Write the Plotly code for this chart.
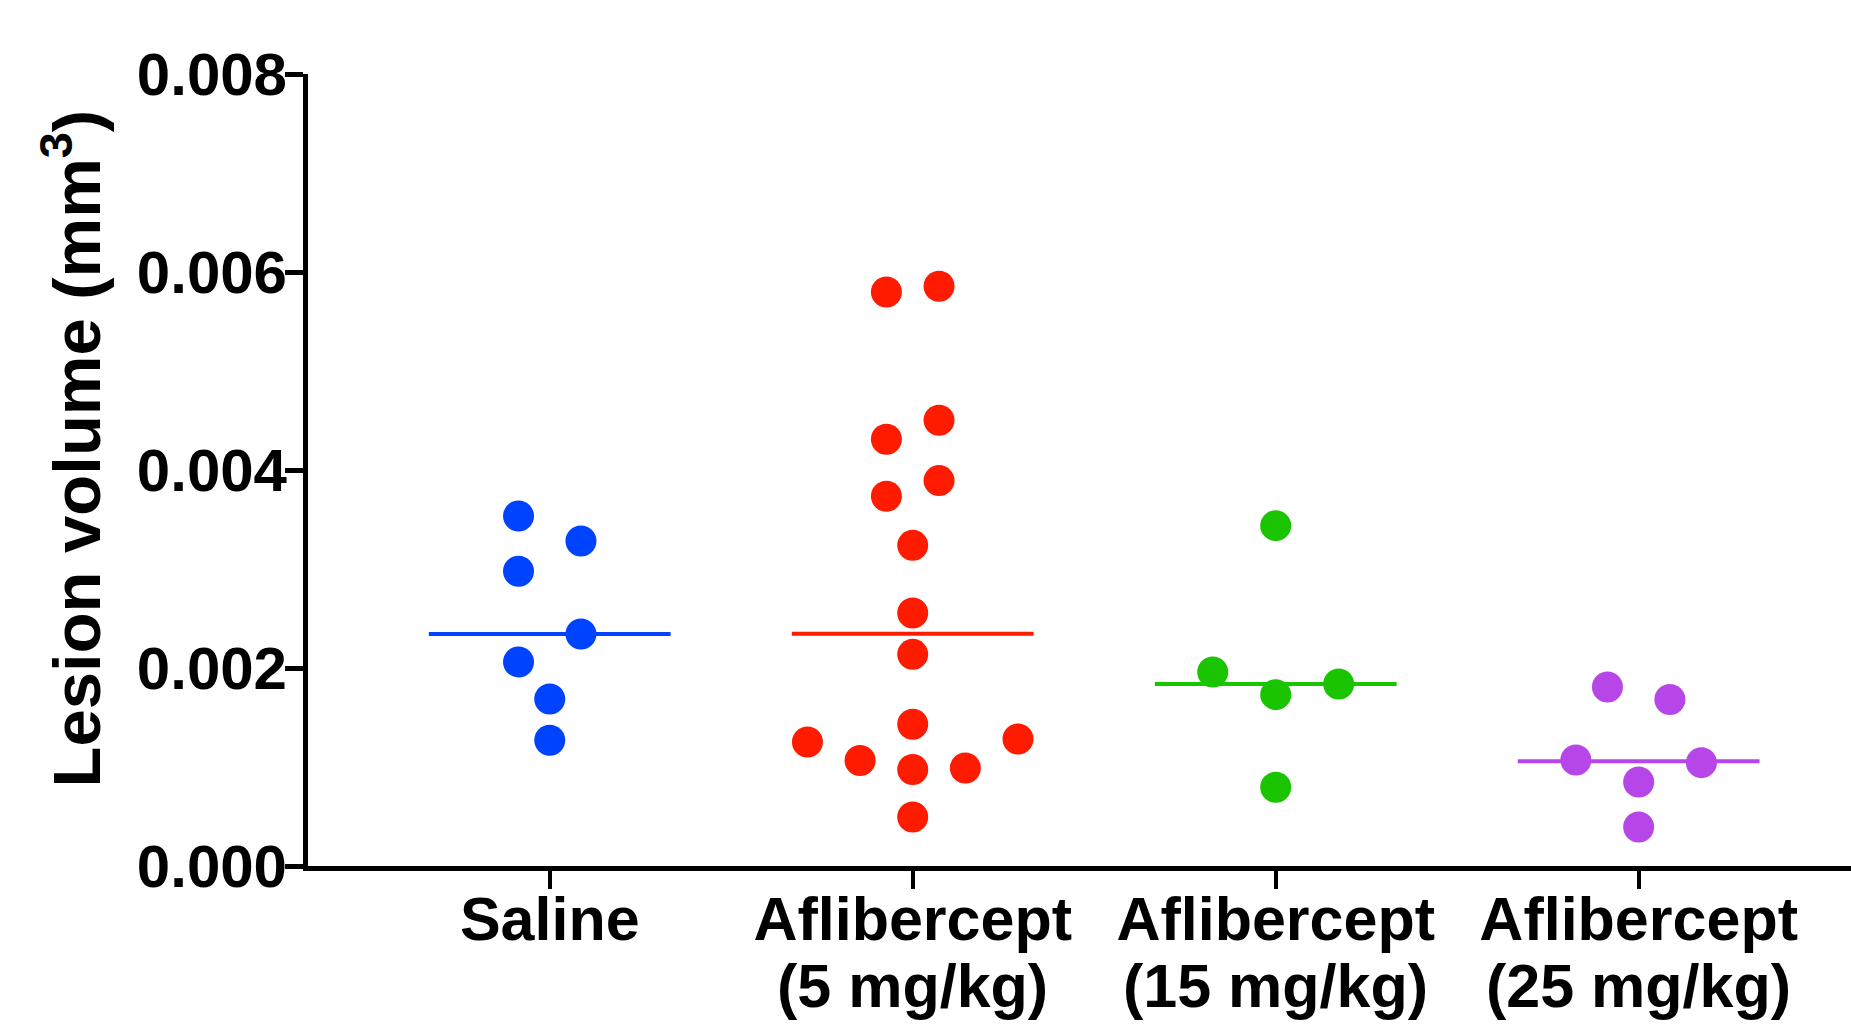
import numpy as np
import plotly.graph_objects as go

# ---- data ----
categories = ["Saline", "Aflibercept", "Aflibercept", "Aflibercept"]
subtitles = ["", "(5 mg/kg)", "(15 mg/kg)", "(25 mg/kg)"]

saline_vals = [0.003535, 0.003283, 0.002977, 0.002343, 0.002061, 0.001687, 0.001270]
saline_jit = [-0.086, 0.086, -0.086, 0.086, -0.086, 0.0, 0.0]

afl5_vals = [0.005798, 0.005856, 0.004502, 0.004310, 0.003893, 0.003734, 0.003239,
             0.002556, 0.002138, 0.001431, 0.001253, 0.001283, 0.001065, 0.000974,
             0.000990, 0.000495]
afl5_jit = [-0.0725, 0.0725, 0.0725, -0.0725, 0.0725, -0.0725, 0.0,
            0.0, 0.0, 0.0, -0.29, 0.29, -0.145, 0.0,
            0.145, 0.0]

afl15_vals = [0.003438, 0.001960, 0.001838, 0.001731, 0.000795]
afl15_jit = [0.0, -0.1735, 0.1735, 0.0, 0.0]

afl25_vals = [0.001808, 0.001681, 0.001071, 0.001044, 0.000848, 0.000394]
afl25_jit = [-0.086, 0.086, -0.173, 0.173, 0.0, 0.0]

colors = ["#0043FF", "#FF1B00", "#1BC400", "#B646E8"]
y_ticks = [0.0, 0.002, 0.004, 0.006, 0.008]

groups = [(saline_vals, saline_jit), (afl5_vals, afl5_jit),
          (afl15_vals, afl15_jit), (afl25_vals, afl25_jit)]

FONT = "Liberation Sans, Arial, Helvetica, sans-serif"

fig = go.Figure()

# median lines first (behind markers)
for i, (vals, jit) in enumerate(groups):
    med = float(np.median(vals))
    fig.add_trace(go.Scatter(
        x=[i - 0.333, i + 0.333], y=[med, med], mode="lines",
        line=dict(color=colors[i], width=4), showlegend=False, hoverinfo="skip"))

for i, (vals, jit) in enumerate(groups):
    fig.add_trace(go.Scatter(
        x=[i + j for j in jit], y=vals, mode="markers",
        marker=dict(color=colors[i], size=31, line=dict(width=0)),
        showlegend=False, cliponaxis=False))

PLOT_W = 1543.0
annotations = []
for i, s in enumerate(subtitles):
    if s:
        annotations.append(dict(
            x=i, xref="x", y=-0.152, yref="paper", text=s, showarrow=False,
            xanchor="center", yanchor="middle",
            font=dict(family=FONT, size=61, color="black", weight="bold")))

annotations.append(dict(
    x=(71.5 - 308) / PLOT_W, xref="paper", y=0.5266, yref="paper",
    text="Lesion volume (mm<sup>3</sup>)", textangle=-90, showarrow=False,
    xanchor="center", yanchor="middle",
    font=dict(family=FONT, size=67, color="black", weight="bold")))

fig.update_layout(
    width=1851, height=1024,
    margin=dict(l=308, r=0, t=74, b=158, pad=0),
    paper_bgcolor="white", plot_bgcolor="white",
    annotations=annotations,
    xaxis=dict(
        range=[-0.666, 3.585], tickmode="array", tickvals=[0, 1, 2, 3],
        ticktext=categories, showgrid=False, zeroline=False,
        showline=True, linewidth=5, linecolor="black",
        ticks="outside", ticklen=18, tickwidth=4, tickcolor="black",
        ticklabelstandoff=-22,
        tickfont=dict(family=FONT, size=61, color="black", weight="bold")),
    yaxis=dict(
        range=[0, 0.008], tickmode="array", tickvals=y_ticks,
        ticktext=[f"{v:.3f}" for v in y_ticks], showgrid=False, zeroline=False,
        showline=True, linewidth=5, linecolor="black",
        ticks="outside", ticklen=18, tickwidth=5, tickcolor="black",
        ticklabelstandoff=-14,
        tickfont=dict(family=FONT, size=60, color="black", weight="bold")),
)

# remove the default 8px page margin so the figure fills the window exactly
fig.write_html(
    "out.html",
    config={"displayModeBar": False},
    post_script="document.body.style.margin='0px';"
                "document.documentElement.style.overflow='hidden';",
)
